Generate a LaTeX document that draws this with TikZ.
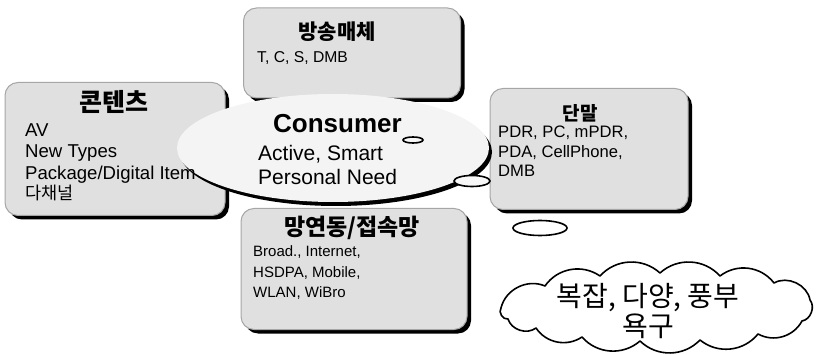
\documentclass[tikz,border=0pt]{standalone}
\usepackage{fontspec}
\setmainfont{Liberation Sans}
\newfontfamily\kr{Noto Sans CJK KR}
\usetikzlibrary{shapes.geometric,shadows}
\newcommand\setfs[1]{\fontsize{#1}{#1}\selectfont}
\tikzset{
  card/.style={rectangle, rounded corners=13pt, fill=gray!24, draw=gray!70,
    line width=1pt, inner sep=0pt,
    general shadow={fill=black, shadow xshift=4pt, shadow yshift=-4pt}},
  hub/.style={ellipse, fill=gray!9, inner sep=0pt,
    general shadow={fill=black, shadow xshift=3pt, shadow yshift=-4pt}},
  puff/.style={ellipse, draw=black, line width=1.6pt, fill=gray!6, inner sep=0pt},
  title/.style={inner sep=0pt, anchor=base, font=\kr\bfseries},
  item/.style={inner sep=0pt, anchor=base west},
  cloudline/.style={draw=black, line width=1.6pt, line join=round},
}
\begin{document}
\begin{tikzpicture}[x=1pt, y=-1pt]
\useasboundingbox (0,0) rectangle (819,355);

% four topic cards
\node[card, minimum width=220pt, minimum height=133pt] (content) at (115,149) {};
\node[card, minimum width=217pt, minimum height=90pt] (bcast) at (352,53) {};
\node[card, minimum width=198pt, minimum height=121pt] (term) at (589,149) {};
\node[card, minimum width=226pt, minimum height=121pt] (net) at (354,269) {};

% central consumer ellipse
\node[hub, minimum width=312pt, minimum height=108pt] (hub) at (333,148) {};

% thought bubbles
\node[puff, minimum width=20pt, minimum height=6pt] (p1) at (413,140) {};
\node[puff, minimum width=36pt, minimum height=11pt] (p2) at (472,181) {};
\node[puff, minimum width=54pt, minimum height=15pt, fill=white] (p3) at (540,228) {};

% wish cloud, drawn lobe by lobe
\coordinate (k0) at (501,308);
\coordinate (k1) at (545,286);
\coordinate (k2) at (600,276);
\coordinate (k3) at (660,273);
\coordinate (k4) at (720,276);
\coordinate (k5) at (774,283);
\coordinate (k6) at (810,300);
\coordinate (k7) at (802,321);
\coordinate (k8) at (758,334);
\coordinate (k9) at (700,340);
\coordinate (k10) at (640,341);
\coordinate (k11) at (582,337);
\coordinate (k12) at (536,328);
\coordinate (k13) at (508,319);
\path[cloudline, fill=white] (k0) to[bend left=50] (k1) to[bend left=45] (k2)
  to[bend left=45] (k3) to[bend left=45] (k4) to[bend left=45] (k5)
  to[bend left=55] (k6) to[bend left=60] (k7) to[bend left=45] (k8)
  to[bend left=45] (k9) to[bend left=45] (k10) to[bend left=45] (k11)
  to[bend left=45] (k12) to[bend left=55] (k13) to[bend left=70] cycle;

% card texts
\node[title, font=\kr\bfseries\setfs{25}] (t1) at (114,112) {콘텐츠};
\node[item, font=\setfs{18.6}] (c1) at (25,137) {AV};
\node[item, font=\setfs{18.6}] (c2) at (25,158) {New Types};
\node[item, font=\setfs{18.6}] (c3) at (25,180) {Package/Digital Item};
\node[item, font=\kr\setfs{17.5}] (c4) at (25,200) {다채널};

\node[title, font=\kr\bfseries\setfs{21}] (t2) at (337,40) {방송매체};
\node[item, font=\setfs{15.7}] (b1) at (257,63) {T, C, S, DMB};

\node[title, font=\kr\bfseries\setfs{19}] (t3) at (580,121) {단말};
\node[item, font=\setfs{16.6}] (d1) at (498,138) {PDR, PC, mPDR,};
\node[item, font=\setfs{16.6}] (d2) at (498,158) {PDA, CellPhone,};
\node[item, font=\setfs{16.6}] (d3) at (498,177) {DMB};

\node[title, font=\kr\bfseries\setfs{23}] (t4) at (352,236) {망연동/접속망};
\node[item, font=\setfs{15}] (n1) at (253,257) {Broad., Internet,};
\node[item, font=\setfs{15}] (n2) at (253,278) {HSDPA, Mobile,};
\node[item, font=\setfs{15}] (n3) at (253,298) {WLAN, WiBro};

% consumer texts
\node[item, font=\bfseries\setfs{26}] (h1) at (273,133) {Consumer};
\node[item, font=\setfs{21}] (h2) at (258,161) {Active, Smart};
\node[item, font=\setfs{21}] (h3) at (258,185) {Personal Need};

% cloud texts
\node[title, font=\kr\setfs{28}] (w1) at (648,306) {복잡, 다양, 풍부};
\node[title, font=\kr\setfs{28}] (w2) at (648,336) {욕구};
\end{tikzpicture}
\end{document}
